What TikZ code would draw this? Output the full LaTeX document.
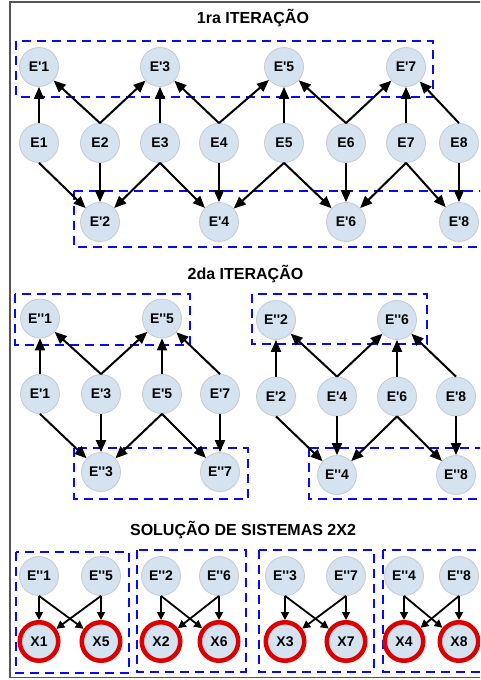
\documentclass[tikz,border=0pt]{standalone}
\usepackage{fontspec}
\newfontfamily\lsans{Liberation Sans}
\usetikzlibrary{arrows.meta}
\definecolor{nodefill}{RGB}{213,227,241}
\definecolor{nodeline}{RGB}{196,202,210}
\definecolor{xred}{RGB}{221,0,0}
\definecolor{grpblue}{RGB}{10,10,240}
\definecolor{framegray}{RGB}{85,85,85}
\tikzset{
  enode/.style={circle, fill=nodefill, draw=nodeline, line width=0.8pt,
    minimum size=39pt, inner sep=0pt, font=\lsans\bfseries\fontsize{14}{14}\selectfont},
  xnode/.style={enode, draw=xred, line width=4.5pt, minimum size=38.5pt},
  grp/.style={draw=grpblue, dash pattern=on 9pt off 6pt, line width=2pt},
  link/.style={-{Triangle[length=12pt,width=10pt]}, line width=2pt},
  slink/.style={-{Triangle[length=8pt,width=8pt]}, line width=1.8pt},
  ttl/.style={font=\lsans\bfseries\fontsize{16}{16}\selectfont},
}
\begin{document}
\begin{tikzpicture}[x=1pt, y=-1pt]
\clip (0,0) rectangle (480,680);
\draw[framegray, line width=1.5pt] (10,2) rectangle (495,677.5);

% ---------- first iteration ----------
\node[ttl] (t1) at (253,18) {1ra ITERAÇÃO};
\draw[grp] (16,41) rectangle (433,96.5);
\draw[grp] (74,191) rectangle (495,247);

\node[enode] (p1) at (39,67) {E'1};
\node[enode] (p3) at (160,67) {E'3};
\node[enode] (p5) at (284,67) {E'5};
\node[enode] (p7) at (406,67) {E'7};

\node[enode] (e1) at (39,143) {E1};
\node[enode] (e2) at (100,143) {E2};
\node[enode] (e3) at (160,143) {E3};
\node[enode] (e4) at (219,143) {E4};
\node[enode] (e5) at (284,143) {E5};
\node[enode] (e6) at (346,143) {E6};
\node[enode] (e7) at (406,143) {E7};
\node[enode] (e8) at (459,143) {E8};

\node[enode] (p2) at (100,222) {E'2};
\node[enode] (p4) at (219,222) {E'4};
\node[enode] (p6) at (346,222) {E'6};
\node[enode] (p8) at (459,222) {E'8};

\draw[link] (e1.north) -- (p1);
\draw[link] (e1.south) -- (p2);
\draw[link] (e2.north) -- (p1);
\draw[link] (e2.north) -- (p3);
\draw[link] (e2.south) -- (p2);
\draw[link] (e3.north) -- (p3);
\draw[link] (e3.south) -- (p2);
\draw[link] (e3.south) -- (p4);
\draw[link] (e4.north) -- (p3);
\draw[link] (e4.north) -- (p5);
\draw[link] (e4.south) -- (p4);
\draw[link] (e5.north) -- (p5);
\draw[link] (e5.south) -- (p4);
\draw[link] (e5.south) -- (p6);
\draw[link] (e6.north) -- (p5);
\draw[link] (e6.north) -- (p7);
\draw[link] (e6.south) -- (p6);
\draw[link] (e7.north) -- (p7);
\draw[link] (e7.south) -- (p6);
\draw[link] (e7.south) -- (p8);
\draw[link] (e8.north) -- (p7);
\draw[link] (e8.south) -- (p8);

% ---------- second iteration ----------
\node[ttl] (t2) at (245.5,274) {2da ITERAÇÃO};
\draw[grp] (15,294) rectangle (190,344.5);
\draw[grp] (74,448) rectangle (247.5,498.5);
\draw[grp] (251.5,294) rectangle (426.5,344);
\draw[grp] (308.5,447.5) rectangle (495,498.5);

% odd group
\node[enode] (r1) at (40,318.5) {E''1};
\node[enode] (r5) at (162,318.5) {E''5};
\node[enode] (q1) at (40,394) {E'1};
\node[enode] (q3) at (101,394) {E'3};
\node[enode] (q5) at (162,394) {E'5};
\node[enode] (q7) at (220,394) {E'7};
\node[enode] (r3) at (101,472) {E''3};
\node[enode] (r7) at (220,472) {E''7};

\draw[link] (q1.north) -- (r1);
\draw[link] (q1.south) -- (r3);
\draw[link] (q3.north) -- (r1);
\draw[link] (q3.north) -- (r5);
\draw[link] (q3.south) -- (r3);
\draw[link] (q5.north) -- (r5);
\draw[link] (q5.south) -- (r3);
\draw[link] (q5.south) -- (r7);
\draw[link] (q7.north) -- (r5);
\draw[link] (q7.south) -- (r7);

% even group
\node[enode] (r2) at (276,320) {E''2};
\node[enode] (r6) at (397,320) {E''6};
\node[enode] (q2) at (276,396.5) {E'2};
\node[enode] (q4) at (337,396.5) {E'4};
\node[enode] (q6) at (397,396.5) {E'6};
\node[enode] (q8) at (456,396.5) {E'8};
\node[enode] (r4) at (337,475) {E''4};
\node[enode] (r8) at (456,475) {E''8};

\draw[link] (q2.north) -- (r2);
\draw[link] (q2.south) -- (r4);
\draw[link] (q4.north) -- (r2);
\draw[link] (q4.north) -- (r6);
\draw[link] (q4.south) -- (r4);
\draw[link] (q6.north) -- (r6);
\draw[link] (q6.south) -- (r4);
\draw[link] (q6.south) -- (r8);
\draw[link] (q8.north) -- (r6);
\draw[link] (q8.south) -- (r8);

% ---------- 2x2 systems ----------
\node[ttl] (t3) at (243,530) {SOLUÇÃO DE SISTEMAS 2X2};
\draw[grp] (15.5,552) rectangle (129,672.5);
\draw[grp] (136.5,550) rectangle (245.5,671.5);
\draw[grp] (258.5,550) rectangle (373.5,671.5);
\draw[grp] (382.5,550) rectangle (495,671.5);

\foreach \a/\b/\xa/\xb in {1/5/39/101, 2/6/161/219, 3/7/285/346, 4/8/404/459}{
  \node[enode] (s\a) at (\xa,576) {E''\a};
  \node[enode] (s\b) at (\xb,576) {E''\b};
  \node[xnode] (x\a) at (\xa,641.5) {X\a};
  \node[xnode] (x\b) at (\xb,641.5) {X\b};
  \draw[slink] (s\a.south) -- (x\a);
  \draw[slink] (s\a.south) -- (x\b);
  \draw[slink] (s\b.south) -- (x\b);
  \draw[slink] (s\b.south) -- (x\a);
}
\end{tikzpicture}
\end{document}
